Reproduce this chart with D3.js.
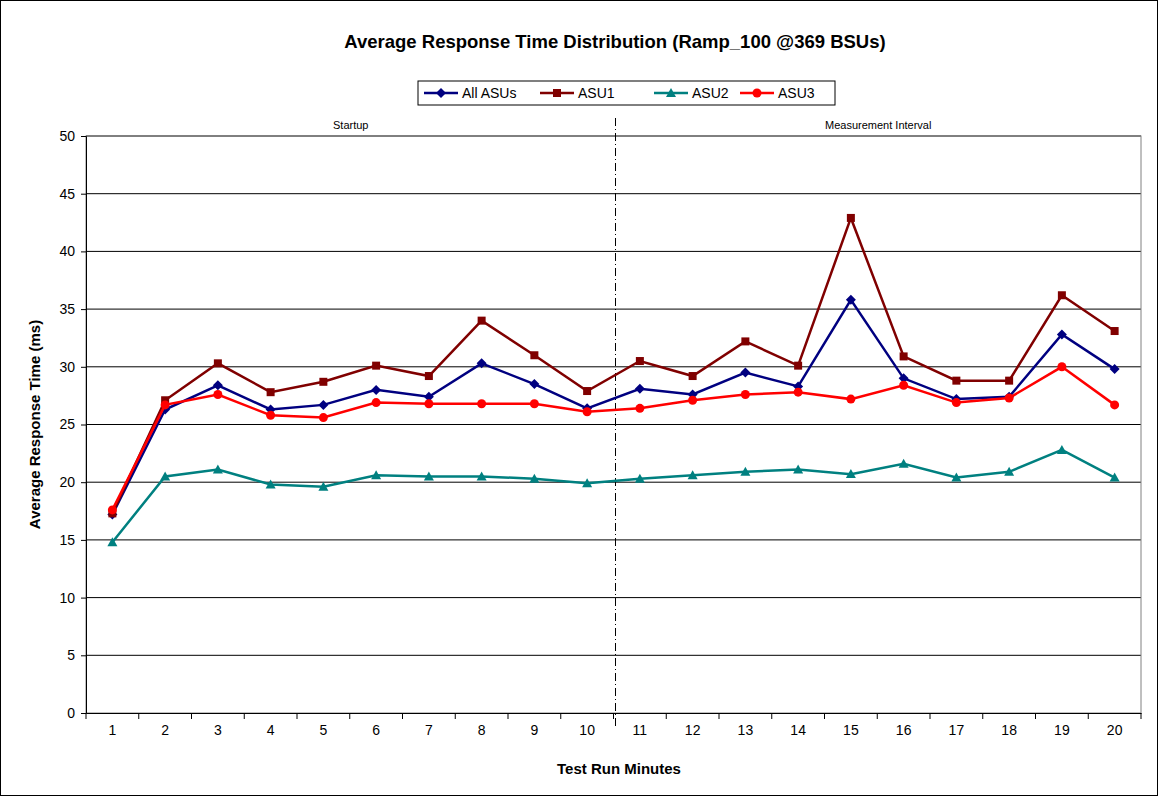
<!DOCTYPE html>
<html>
<head>
<meta charset="utf-8">
<script src="https://cdn.jsdelivr.net/npm/d3@7"></script>
<style>
  body { margin: 0; background: #fff; }
  text { font-family: "Liberation Sans", Arial, sans-serif; }
</style>
</head>
<body>
<svg id="chart" width="1159" height="796"></svg>
<script>
var minutes = d3.range(1, 21);
var allAsus = [17.2, 26.3, 28.4, 26.3, 26.7, 28.0, 27.4, 30.3, 28.5, 26.4, 28.1, 27.6, 29.5, 28.3, 35.8, 29.0, 27.2, 27.4, 32.8, 29.8];
var asu1 = [17.3, 27.1, 30.3, 27.8, 28.7, 30.1, 29.2, 34.0, 31.0, 27.9, 30.5, 29.2, 32.2, 30.1, 42.9, 30.9, 28.8, 28.8, 36.2, 33.1];
var asu2 = [14.8, 20.5, 21.1, 19.8, 19.6, 20.6, 20.5, 20.5, 20.3, 19.9, 20.3, 20.6, 20.9, 21.1, 20.7, 21.6, 20.4, 20.9, 22.8, 20.4];
var asu3 = [17.6, 26.7, 27.6, 25.8, 25.6, 26.9, 26.8, 26.8, 26.8, 26.1, 26.4, 27.1, 27.6, 27.8, 27.2, 28.4, 26.9, 27.3, 30.0, 26.7];
var yTicks = d3.range(0, 51, 5);

var series = [
  {name: "All ASUs", values: allAsus, color: "#000080", shape: "diamond"},
  {name: "ASU1", values: asu1, color: "#800000", shape: "square"},
  {name: "ASU2", values: asu2, color: "#008080", shape: "triangle"},
  {name: "ASU3", values: asu3, color: "#ff0000", shape: "circle"}
];

var svg = d3.select("#chart");
var L = 86, R = 1141, T = 136, B = 713;

svg.append("rect").attr("x", 0.5).attr("y", 0.5).attr("width", 1157).attr("height", 795)
  .attr("fill", "#fff").attr("stroke", "#000");

var x = d3.scaleBand().domain(minutes).range([L, R]);
var y = d3.scaleLinear().domain([0, 50]).range([B, T]);

// gridlines
svg.append("g").selectAll("line").data(yTicks.slice(1)).join("line")
  .attr("x1", L).attr("x2", R).attr("y1", d => y(d)).attr("y2", d => y(d))
  .attr("stroke", "#000").attr("stroke-width", 1);
svg.append("rect").attr("x", L).attr("y", T).attr("width", R - L).attr("height", B - T)
  .attr("fill", "none").attr("stroke", "#808080");

var yAxis = svg.append("g").attr("transform", "translate(" + L + ",0)")
  .call(d3.axisLeft(y).tickValues(yTicks).tickSize(5).tickPadding(6));
var xAxis = svg.append("g").attr("transform", "translate(0," + B + ")")
  .call(d3.axisBottom(x).tickSize(0).tickPadding(12));
// tick marks at band boundaries
svg.append("g").selectAll("line").data(d3.range(0, 21)).join("line")
  .attr("x1", d => L + d * x.step()).attr("x2", d => L + d * x.step())
  .attr("y1", B).attr("y2", B + 6).attr("stroke", "#000");
[yAxis, xAxis].forEach(function (a) {
  a.selectAll("text").attr("font-size", 14).attr("fill", "#000")
    .style("font-family", "Liberation Sans, Arial, sans-serif");
  a.select(".domain").attr("stroke", "#000");
});

// startup / measurement divider
var splitX = L + 10 * x.step() + 2;
svg.append("line").attr("x1", splitX).attr("x2", splitX).attr("y1", 118).attr("y2", B + 16)
  .attr("stroke", "#000").attr("stroke-dasharray", "8,3,1,3");
svg.append("text").attr("x", (L + splitX) / 2).attr("y", 129).attr("text-anchor", "middle")
  .attr("font-size", 11).text("Startup");
svg.append("text").attr("x", (splitX + R) / 2).attr("y", 129).attr("text-anchor", "middle")
  .attr("font-size", 11).text("Measurement Interval");

function marker(g, shape, color) {
  if (shape === "diamond") g.append("path").attr("d", "M0,-5L5,0L0,5L-5,0Z").attr("fill", color);
  else if (shape === "square") g.append("rect").attr("x", -4).attr("y", -4).attr("width", 8).attr("height", 8).attr("fill", color);
  else if (shape === "triangle") g.append("path").attr("d", "M0,-5L5,4L-5,4Z").attr("fill", color);
  else g.append("circle").attr("r", 4.5).attr("fill", color);
}

var line = d3.line().x((d, i) => x(minutes[i]) + x.bandwidth() / 2).y(d => y(d));
series.forEach(function (s) {
  svg.append("path").attr("d", line(s.values)).attr("fill", "none")
    .attr("stroke", s.color).attr("stroke-width", 2.5);
  s.values.forEach(function (v, i) {
    var g = svg.append("g").attr("transform", "translate(" + (x(minutes[i]) + x.bandwidth() / 2) + "," + y(v) + ")");
    marker(g, s.shape, s.color);
  });
});

// title and labels
svg.append("text").attr("x", 615).attr("y", 48).attr("text-anchor", "middle")
  .attr("font-size", 18.5).attr("font-weight", "bold").text("Average Response Time Distribution (Ramp_100 @369 BSUs)");
svg.append("text").attr("x", 619).attr("y", 774).attr("text-anchor", "middle")
  .attr("font-size", 15).attr("font-weight", "bold").text("Test Run Minutes");
svg.append("text").attr("transform", "translate(40," + ((T + B) / 2) + ") rotate(-90)")
  .attr("text-anchor", "middle").attr("font-size", 15).attr("font-weight", "bold")
  .text("Average Response Time (ms)");

// legend
var lg = svg.append("g").attr("transform", "translate(418,81)");
lg.append("rect").attr("width", 417).attr("height", 24).attr("fill", "#fff").attr("stroke", "#000");
var lx = [6, 122, 236, 322];
series.forEach(function (s, i) {
  var g = lg.append("g").attr("transform", "translate(" + lx[i] + ",12)");
  g.append("line").attr("x1", 0).attr("x2", 34).attr("stroke", s.color).attr("stroke-width", 2.5);
  marker(g.append("g").attr("transform", "translate(17,0)"), s.shape, s.color);
  g.append("text").attr("x", 38).attr("y", 5).attr("font-size", 14).text(s.name);
});
</script>
</body>
</html>
